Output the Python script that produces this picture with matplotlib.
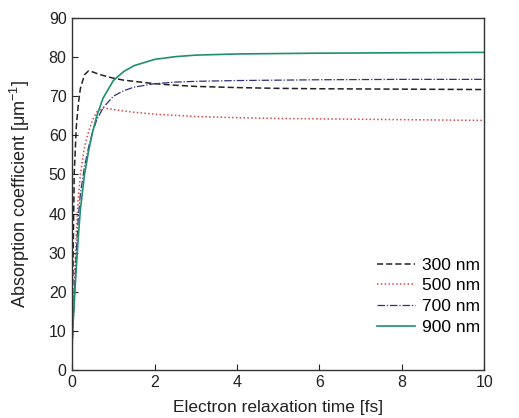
import numpy as np
import matplotlib
matplotlib.use('Agg')
from matplotlib import pyplot as plt

plt.rcParams['font.family'] = ['Liberation Sans', 'DejaVu Sans']

# curves
t = [0, 0.05, 0.1, 0.15, 0.2, 0.3, 0.4, 0.5, 0.6, 0.75, 1.0, 1.25, 1.5, 2.0, 2.5, 3.0, 4.0, 5.0, 6.0, 8.0, 10.0]
nm300 = [10, 50, 62, 68, 72, 75.5, 76.5, 76.2, 75.8, 75.3, 74.6, 74.1, 73.8, 73.2, 72.8, 72.5, 72.2, 72.0, 71.9, 71.8, 71.7]
nm500 = [5, 22, 35, 44, 50, 57, 61, 64, 66, 67, 66.6, 66.2, 65.9, 65.4, 65.1, 64.8, 64.5, 64.3, 64.2, 64.0, 63.8]
nm700 = [5, 18, 30, 39, 45, 52, 57, 61, 64, 67, 70, 71.4, 72.3, 73.2, 73.6, 73.8, 74.0, 74.1, 74.2, 74.3, 74.3]
nm900 = [8, 17, 26, 34, 41, 50, 56, 61, 65, 69.5, 74, 76.3, 77.8, 79.4, 80.1, 80.5, 80.8, 80.9, 81.0, 81.1, 81.2]
labels = ['300 nm', '500 nm', '700 nm', '900 nm']

fig = plt.figure(figsize=(5.19, 4.18), dpi=100)
ax = fig.add_axes([0.139, 0.115, 0.794, 0.842])

ax.plot(t, nm300, color='#222222', ls=(0, (4, 2)), lw=1.1, label=labels[0])
ax.plot(t, nm500, color='#e04848', ls=(0, (1, 1.5)), lw=1.1, label=labels[1])
ax.plot(t, nm700, color='#303080', ls=(0, (6, 1.5, 1, 1.5)), lw=0.9, label=labels[2])
ax.plot(t, nm900, color='#1f8f70', ls='-', lw=1.2, label=labels[3])

ax.set_xlim(0, 10)
ax.set_ylim(0, 90)
ax.set_xticks(range(0, 11, 2))
ax.set_yticks(range(0, 91, 10))
ax.tick_params(direction='in', length=4, labelsize=11.5, colors='#222222', pad=4)
for s in ax.spines.values():
    s.set_color('#333333')
    s.set_linewidth(1.0)

ax.set_xlabel('Electron relaxation time [fs]', fontsize=12.5, color='#222222', labelpad=7)
ax.set_ylabel(r'Absorption coefficient [$\mathregular{\mu m^{-1}}$]', fontsize=13, color='#222222', labelpad=12)

ax.legend(loc='lower right', frameon=False, fontsize=12.5, handlelength=2.2, handletextpad=0.35,
          labelspacing=0.32, borderpad=0, bbox_to_anchor=(1.01, 0.075))

plt.savefig('out.png', dpi=100)
